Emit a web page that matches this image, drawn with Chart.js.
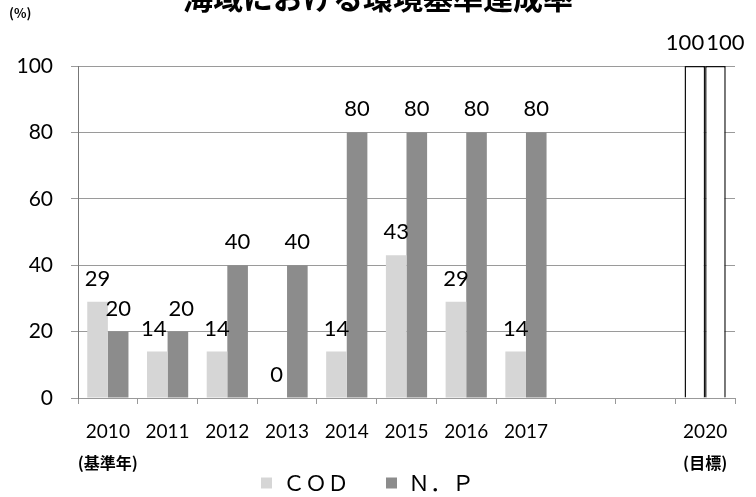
<!DOCTYPE html>
<html lang="ja">
<head>
<meta charset="utf-8">
<script src="https://cdn.jsdelivr.net/npm/chart.js@4.4.1/dist/chart.umd.min.js"></script>
<style>
  html, body { margin: 0; padding: 0; background: #fff; }
  #wrap { width: 756px; height: 497px; }
</style>
</head>
<body>
<div id="wrap"><canvas id="rateChart" width="756" height="497"></canvas></div>
<script>
// Data
const years = ['2010', '2011', '2012', '2013', '2014', '2015', '2016', '2017', '', '', '2020'];
const yearNotes = ['(基準年)', '', '', '', '', '', '', '', '', '', '(目標)'];
const codRates = [29, 14, 14, 0, 14, 43, 29, 14, null, null, 100];
const npRates = [20, 20, 40, 40, 80, 80, 80, 80, null, null, 100];
const yTicks = [0, 20, 40, 60, 80, 100];
const targetYear = '2020';

const numFont = 'Lato, "Noto Sans", sans-serif';
const jpFont = '"Noto Sans CJK JP", "Noto Sans", sans-serif';
const isTarget = i => years[i] === targetYear;

//Chart title and the (%) unit
const headerPlugin = {
    id: 'header',
    afterDraw(chart) {
        const ctx = chart.ctx;
        ctx.save();
        ctx.fillStyle = '#000';
        ctx.textBaseline = 'middle';
        ctx.textAlign = 'center';
        ctx.font = 'bold 30px ' + jpFont;
        ctx.fillText('海域における環境基準達成率', 378, -2);
        ctx.textAlign = 'left';
        ctx.font = 'bold 13px ' + jpFont;
        ctx.fillText('(%)', 9, 13);
        ctx.restore();
    }
};

//Second line under some year labels
const notesPlugin = {
    id: 'yearNotes',
    afterDraw(chart) {
        const ctx = chart.ctx;
        const x = chart.scales.x;
        ctx.save();
        ctx.fillStyle = '#000';
        ctx.font = 'bold 16px ' + jpFont;
        ctx.textAlign = 'center';
        ctx.textBaseline = 'middle';
        yearNotes.forEach((note, i) => {
            if (note) ctx.fillText(note, x.getPixelForValue(i), 463);
        });
        ctx.restore();
    }
};

//Value labels above each bar
const valueLabels = {
    id: 'valueLabels',
    afterDatasetsDraw(chart) {
        const ctx = chart.ctx;
        const cod = chart.getDatasetMeta(0).data;
        const np = chart.getDatasetMeta(1).data;
        ctx.save();
        ctx.fillStyle = '#000';
        ctx.font = '22px ' + numFont;
        ctx.textBaseline = 'middle';
        years.forEach((y, i) => {
            const a = codRates[i], b = npRates[i];
            if (a === null || b === null) return;
            const wa = ctx.measureText(String(a)).width;
            const wb = ctx.measureText(String(b)).width;
            const ya = cod[i].y - 23, yb = np[i].y - 23;
            if (Math.abs(ya - yb) < 20 && np[i].x - cod[i].x < (wa + wb) / 2 + 2) {
                //labels would collide, push them apart
                const mid = (cod[i].x + np[i].x) / 2;
                ctx.textAlign = 'right';
                ctx.fillText(String(a), mid - 1, ya);
                ctx.textAlign = 'left';
                ctx.fillText(String(b), mid + 1, yb);
            } else {
                ctx.textAlign = 'center';
                ctx.fillText(String(a), cod[i].x, ya);
                ctx.fillText(String(b), np[i].x, yb);
            }
        });
        ctx.restore();
    }
};

const ctx = document.getElementById('rateChart').getContext('2d');
const myChart = new Chart(ctx, {
    type: 'bar',
    data: {
        labels: years,
        datasets: [{
            label: 'ＣＯＤ',
            data: codRates,
            backgroundColor: c => isTarget(c.dataIndex) ? '#ffffff' : '#d6d6d6',
            borderColor: '#111',
            borderWidth: c => isTarget(c.dataIndex) ? 1.5 : 0
        },
        {
            label: 'Ｎ．Ｐ',
            data: npRates,
            backgroundColor: c => isTarget(c.dataIndex) ? '#ffffff' : '#8c8c8c',
            borderColor: '#111',
            borderWidth: c => isTarget(c.dataIndex) ? 1.5 : 0
        }]
    },
    options: {
        responsive: false,
        animation: false,
        events: [],
        layout: { padding: { top: 66, right: 21, left: 0, bottom: 0 } },
        datasets: {
            bar: { categoryPercentage: 0.69, barPercentage: 1.0 }
        },
        plugins: {
            title: { display: false },
            tooltip: { enabled: false },
            legend: {
                position: 'bottom',
                maxHeight: 40,
                labels: {
                    boxWidth: 11,
                    boxHeight: 11,
                    padding: 15,
                    color: '#000',
                    font: { family: jpFont, size: 22 },
                    //extra room after every entry but the last
                    generateLabels: chart => {
                        const items = Chart.defaults.plugins.legend.labels.generateLabels(chart);
                        items.forEach((it, i) => { if (i < items.length - 1) it.text += '　'; });
                        return items;
                    }
                }
            }
        },
        scales: {
            x: {
                afterFit: s => { s.height = 59; },
                grid: { drawOnChartArea: false, drawTicks: true, tickLength: 6, color: '#999', offset: true },
                border: { color: '#999' },
                ticks: { color: '#000', padding: 16, font: { family: numFont, size: 19 } }
            },
            y: {
                min: 0,
                max: 100,
                afterFit: s => { s.width = 78; },
                afterBuildTicks: s => { s.ticks = yTicks.map(v => ({ value: v })); },
                grid: { color: '#9a9a9a', tickLength: 7 },
                border: { color: '#777' },
                ticks: { color: '#000', padding: 18, font: { family: numFont, size: 21 } }
            }
        }
    },
    plugins: [headerPlugin, notesPlugin, valueLabels]
});
</script>
</body>
</html>
